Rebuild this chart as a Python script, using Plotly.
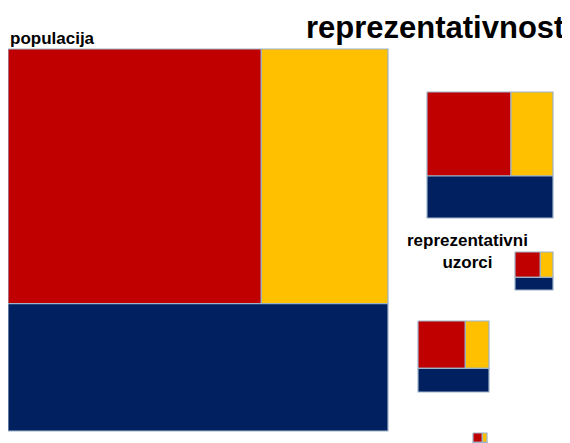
import plotly.graph_objects as go

# --- data ---
categories = ["crveni", "žuti", "plavi"]
top_row_share = [2/3, 1/3]          # share of the top row (crveni, žuti) vs bottom row (plavi)
top_split_share = [2/3, 1/3]        # within top row: crveni vs žuti
groups = ["populacija", "uzorak 1", "uzorak 2", "uzorak 3", "uzorak 4"]

title_text = "reprezentativnost"
pop_label = "populacija"
sample_label = "reprezentativni<br>uzorci"

# --- layout (pixel boxes: x0, y0, width, height) ---
boxes = [
    (8, 49, 380, 382),
    (427, 92, 126, 126),
    (515, 252, 38, 38),
    (418, 321, 71, 71),
    (473, 433, 14, 14),
]
colors = {"crveni": "#C00000", "žuti": "#FFC000", "plavi": "#002060"}
border = "#9DB3C8"

fig = go.Figure()

def rect(x0, y0, w, h, color, name):
    fig.add_trace(go.Scatter(
        x=[x0, x0 + w, x0 + w, x0, x0],
        y=[y0, y0, y0 + h, y0 + h, y0],
        mode="lines", fill="toself", fillcolor=color,
        line=dict(color=border, width=1.2),
        hoverinfo="name", name=name, showlegend=False))

for g, (x0, y0, w, h) in zip(groups, boxes):
    top_h = h * top_row_share[0]
    red_w = w * top_split_share[0]
    rect(x0, y0, red_w, top_h, colors["crveni"], g + " – " + categories[0])
    rect(x0 + red_w, y0, w - red_w, top_h, colors["žuti"], g + " – " + categories[1])
    rect(x0, y0 + top_h, w, h - top_h, colors["plavi"], g + " – " + categories[2])

font_fam = "Liberation Sans, Arial, sans-serif"
fig.add_annotation(x=566, y=27, text="<b>%s</b>" % title_text, showarrow=False,
                   xanchor="right", yanchor="middle",
                   font=dict(family=font_fam, size=31, color="black"))
fig.add_annotation(x=8, y=38, text="<b>%s</b>" % pop_label, showarrow=False,
                   xanchor="left", yanchor="middle",
                   font=dict(family=font_fam, size=17, color="black"))
fig.add_annotation(x=467, y=251, text="<b>%s</b>" % sample_label, showarrow=False,
                   xanchor="center", yanchor="middle", align="center",
                   font=dict(family=font_fam, size=17, color="black"))

# the page body adds an 8px offset; ranges are shifted so box coordinates match screen pixels
fig.update_layout(
    width=570, height=443,
    margin=dict(l=0, r=0, t=0, b=0),
    paper_bgcolor="white", plot_bgcolor="white",
    xaxis=dict(range=[8, 578], visible=False, fixedrange=True),
    yaxis=dict(range=[451, 8], visible=False, fixedrange=True),
    showlegend=False,
)
fig.write_html("out.html")
